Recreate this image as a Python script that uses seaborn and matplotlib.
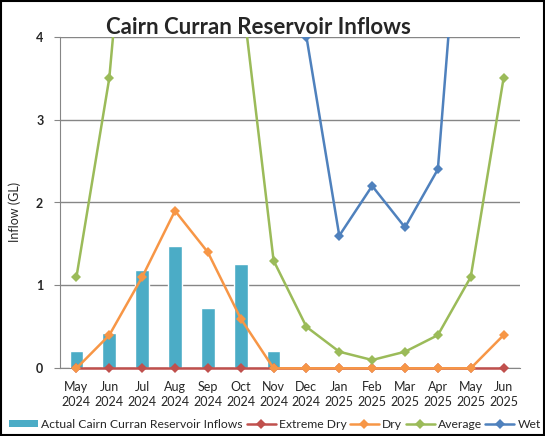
import numpy as np
import pandas as pd
import matplotlib
matplotlib.use("Agg")
import matplotlib.pyplot as plt
from matplotlib.patches import Patch, Rectangle
from matplotlib.lines import Line2D
import seaborn as sns

months = ["May\n2024", "Jun\n2024", "Jul\n2024", "Aug\n2024", "Sep\n2024", "Oct\n2024", "Nov\n2024",
          "Dec\n2024", "Jan\n2025", "Feb\n2025", "Mar\n2025", "Apr\n2025", "May\n2025", "Jun\n2025"]
actual = [0.21, 0.42, 1.19, 1.47, 0.73, 1.26, 0.21, np.nan, np.nan, np.nan, np.nan, np.nan, np.nan, np.nan]
extreme_dry = [0, 0, 0, 0, 0, 0, 0, 0, 0, 0, 0, 0, 0, 0]
dry = [0, 0.4, 1.1, 1.9, 1.4, 0.6, 0, 0, 0, 0, 0, 0, 0, 0.4]
average = [1.1, 3.5, 7.9, 9.0, 7.0, 4.65, 1.3, 0.5, 0.2, 0.1, 0.2, 0.4, 1.1, 3.5]
wet = [np.nan, np.nan, np.nan, np.nan, np.nan, np.nan, np.nan, 4.0, 1.6, 2.2, 1.7, 2.4, 7.4, 9.5]

series_names = ["Extreme Dry", "Dry", "Average", "Wet"]
series_vals = [extreme_dry, dry, average, wet]
series_colors = ["#C0504D", "#F79646", "#9BBB59", "#4F81BD"]
series_clip = [False, False, True, True]
bar_color = "#4BACC6"

sns.set_style("white")
plt.rcParams["font.family"] = ["Lato", "DejaVu Sans"]

fig = plt.figure(figsize=(5.45, 4.36), dpi=100)
ax = fig.add_axes([60/545, 1-368.3/436, 460/545, (368.3-36.7)/436])

df = pd.DataFrame({"month": months, "actual": actual})
sns.barplot(data=df, x="month", y="actual", color=bar_color, saturation=1, width=0.42, ax=ax, zorder=2)

pos = np.arange(len(months))
for name, vals, col, clip in zip(series_names, series_vals, series_colors, series_clip):
    sns.lineplot(x=pos, y=vals, color=col, marker="D", markersize=5.5, markeredgewidth=0,
                 linewidth=1.8, ax=ax, zorder=4, sort=False, estimator=None, clip_on=clip)

ax.set_xlim(-0.5, len(months) - 0.5)
ax.set_ylim(0, 4)
ax.set_yticks([0, 1, 2, 3, 4])
ax.set_yticklabels(["0", "1", "2", "3", "4"], fontweight="bold", fontsize=9)
ax.set_xticks(pos)
ax.set_xticklabels(months, fontsize=9, linespacing=1.3)
ax.tick_params(axis="x", length=0, pad=9)
ax.tick_params(axis="y", length=4, color="#868686", pad=8, direction="out", left=True)
ax.grid(axis="y", color="#868686", linewidth=1)
ax.set_axisbelow(True)
for s in ["top", "right"]:
    ax.spines[s].set_visible(False)
ax.spines["left"].set_color("#868686")
ax.spines["bottom"].set_color("#868686")
ax.spines["left"].set_zorder(1)
ax.spines["bottom"].set_zorder(1)
ax.set_xlabel("")
ax.set_ylabel("Inflow (GL)", fontsize=9, va="center")
ax.yaxis.set_label_coords((15 - 60) / 460, (368.3 - 212) / 331.6)

fig.text(258/545, 1-33.5/436, "Cairn Curran Reservoir Inflows", ha="center", va="baseline",
         fontsize=16, fontweight="bold")

handles = [Patch(facecolor=bar_color, edgecolor="none")]
for col in series_colors:
    handles.append(Line2D([0], [0], color=col, linewidth=1.8, marker="D", markersize=5.5, markeredgewidth=0))
labels = ["Actual Cairn Curran Reservoir Inflows"] + series_names
fig.legend(handles, labels, loc="center", bbox_to_anchor=(275/545, 1-424/436), ncol=5, frameon=False,
           fontsize=8.7, handlelength=2.4, handleheight=0.55, columnspacing=0.3, handletextpad=0.25,
           borderpad=0, borderaxespad=0)

fig.patches.append(Rectangle((0.002, 0.002), 0.996, 0.996, transform=fig.transFigure,
                             fill=False, edgecolor="black", linewidth=1.5))

fig.savefig("out.png", dpi=100)
